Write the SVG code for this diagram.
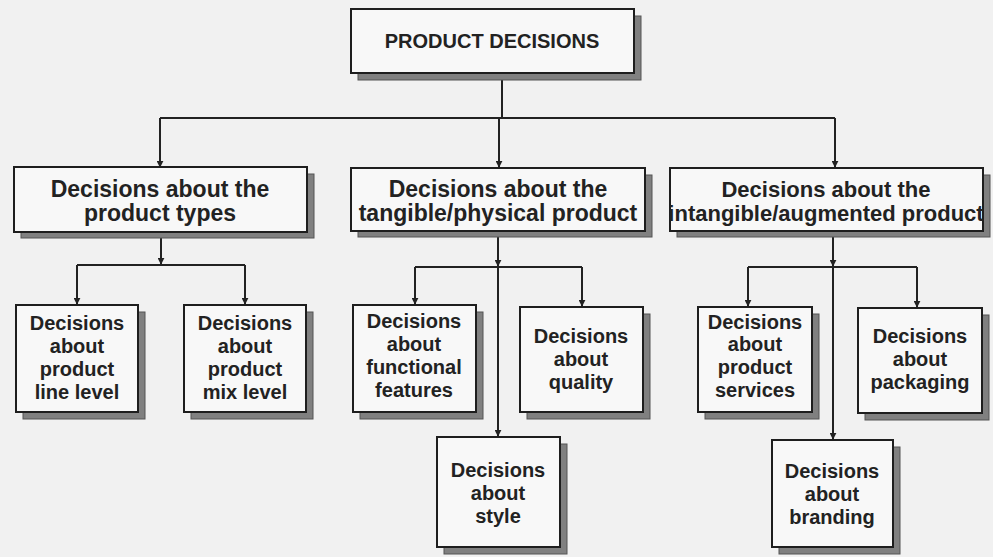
<svg xmlns="http://www.w3.org/2000/svg" width="993" height="557" viewBox="0 0 993 557">
<style>
.bg{fill:#f1f1f1}
.box{fill:#f8f8f8;stroke:#1e1e1e;stroke-width:2}
.sh{fill:#808080;stroke:#555;stroke-width:1}
.t{font-family:"Liberation Sans",Arial,Helvetica,sans-serif;font-weight:bold;fill:#222;text-anchor:middle}
.t2{font-size:23px}
.t2c{font-size:22px}
.t3{font-size:20px}
.t1{font-size:20px}
.ln{fill:none;stroke:#222;stroke-width:2}
</style>
<defs>
<marker id="ah" viewBox="0 0 10 10" refX="9" refY="5" markerWidth="7" markerHeight="7" markerUnits="userSpaceOnUse" orient="auto">
<path d="M0,0 L10,5 L0,10 z" fill="#222"/>
</marker>
</defs>
<rect class="bg" x="0" y="0" width="993" height="557"/>

<g id="connectors">
<path class="ln" d="M502,73 V118"/>
<path class="ln" d="M160,118 H835"/>
<path class="ln" d="M160,118 V167" marker-end="url(#ah)"/>
<path class="ln" d="M499,118 V167" marker-end="url(#ah)"/>
<path class="ln" d="M835,118 V167" marker-end="url(#ah)"/>

<path class="ln" d="M161,232 V264" marker-end="url(#ah)"/>
<path class="ln" d="M77,265 H245"/>
<path class="ln" d="M77,265 V304" marker-end="url(#ah)"/>
<path class="ln" d="M245,265 V304" marker-end="url(#ah)"/>

<path class="ln" d="M498,231 V266" marker-end="url(#ah)"/>
<path class="ln" d="M415,267 H582"/>
<path class="ln" d="M415,267 V304" marker-end="url(#ah)"/>
<path class="ln" d="M582,267 V306" marker-end="url(#ah)"/>
<path class="ln" d="M498,267 V436" marker-end="url(#ah)"/>

<path class="ln" d="M833,231 V266" marker-end="url(#ah)"/>
<path class="ln" d="M748,267 H917"/>
<path class="ln" d="M748,267 V306" marker-end="url(#ah)"/>
<path class="ln" d="M917,267 V307" marker-end="url(#ah)"/>
<path class="ln" d="M833,267 V439" marker-end="url(#ah)"/>
</g>

<g id="product-decisions">
<rect class="sh" x="358" y="16" width="283" height="64"/>
<rect class="box" x="351" y="9" width="283" height="64"/>
<text class="t t1" x="492" y="48">PRODUCT DECISIONS</text>
</g>

<g id="product-types">
<rect class="sh" x="21" y="174" width="293" height="64"/>
<rect class="box" x="14" y="167" width="293" height="65"/>
<text class="t t2" x="160" y="197">Decisions about the</text>
<text class="t t2" x="160" y="221">product types</text>
</g>

<g id="tangible">
<rect class="sh" x="358" y="175" width="294" height="62"/>
<rect class="box" x="351" y="168" width="294" height="63"/>
<text class="t t2" x="498" y="197">Decisions about the</text>
<text class="t t2" x="498" y="221">tangible/physical product</text>
</g>

<g id="intangible">
<rect class="sh" x="677" y="175" width="313" height="62"/>
<rect class="box" x="670" y="168" width="313" height="63"/>
<text class="t t2c" x="826" y="197">Decisions about the</text>
<text class="t t2c" x="826" y="221">intangible/augmented product</text>
</g>

<g id="line-level">
<rect class="sh" x="23" y="312" width="122" height="107"/>
<rect class="box" x="16" y="305" width="122" height="107"/>
<text class="t t3" x="77" y="330">Decisions</text>
<text class="t t3" x="77" y="353">about</text>
<text class="t t3" x="77" y="376">product</text>
<text class="t t3" x="77" y="399">line level</text>
</g>

<g id="mix-level">
<rect class="sh" x="191" y="312" width="122" height="107"/>
<rect class="box" x="184" y="305" width="122" height="107"/>
<text class="t t3" x="245" y="330">Decisions</text>
<text class="t t3" x="245" y="353">about</text>
<text class="t t3" x="245" y="376">product</text>
<text class="t t3" x="245" y="399">mix level</text>
</g>

<g id="functional-features">
<rect class="sh" x="360" y="312" width="123" height="107"/>
<rect class="box" x="353" y="305" width="123" height="107"/>
<text class="t t3" x="414" y="328">Decisions</text>
<text class="t t3" x="414" y="351">about</text>
<text class="t t3" x="414" y="374">functional</text>
<text class="t t3" x="414" y="397">features</text>
</g>

<g id="quality">
<rect class="sh" x="527" y="314" width="123" height="105"/>
<rect class="box" x="520" y="307" width="123" height="105"/>
<text class="t t3" x="581" y="343">Decisions</text>
<text class="t t3" x="581" y="366">about</text>
<text class="t t3" x="581" y="389">quality</text>
</g>

<g id="style">
<rect class="sh" x="444" y="444" width="123" height="110"/>
<rect class="box" x="437" y="437" width="123" height="110"/>
<text class="t t3" x="498" y="477">Decisions</text>
<text class="t t3" x="498" y="500">about</text>
<text class="t t3" x="498" y="523">style</text>
</g>

<g id="product-services">
<rect class="sh" x="705" y="314" width="114" height="105"/>
<rect class="box" x="698" y="307" width="114" height="105"/>
<text class="t t3" x="755" y="329">Decisions</text>
<text class="t t3" x="755" y="351">about</text>
<text class="t t3" x="755" y="374">product</text>
<text class="t t3" x="755" y="397">services</text>
</g>

<g id="packaging">
<rect class="sh" x="865" y="315" width="124" height="105"/>
<rect class="box" x="858" y="308" width="124" height="105"/>
<text class="t t3" x="920" y="343">Decisions</text>
<text class="t t3" x="920" y="366">about</text>
<text class="t t3" x="920" y="389">packaging</text>
</g>

<g id="branding">
<rect class="sh" x="779" y="447" width="121" height="107"/>
<rect class="box" x="772" y="440" width="121" height="107"/>
<text class="t t3" x="832" y="478">Decisions</text>
<text class="t t3" x="832" y="501">about</text>
<text class="t t3" x="832" y="524">branding</text>
</g>
</svg>
